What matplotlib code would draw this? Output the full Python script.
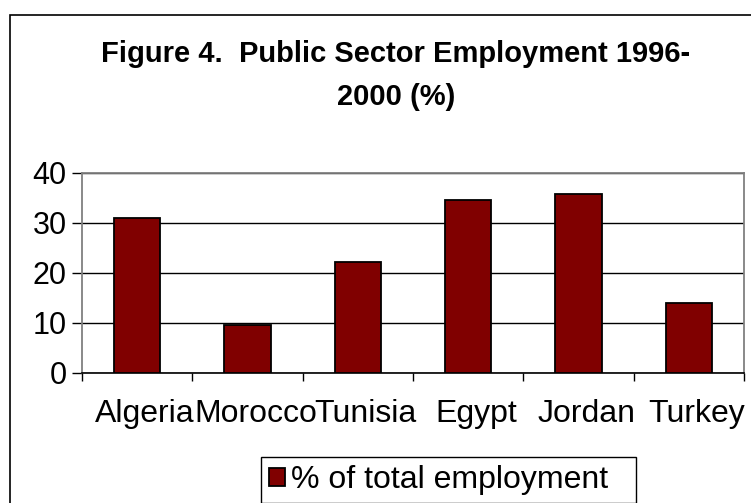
import matplotlib
matplotlib.use('Agg')
from matplotlib import pyplot as plt
from matplotlib.patches import Rectangle
from matplotlib.transforms import ScaledTranslation

# 数据
countries = ['Algeria', 'Morocco', 'Tunisia', 'Egypt', 'Jordan', 'Turkey']
share = [31.1, 9.6, 22.2, 34.7, 35.9, 14.1]
y_ticks = [0, 10, 20, 30, 40]
series_name = '% of total employment'
title_1 = 'Figure 4.  Public Sector Employment 1996-'
title_2 = '2000 (%)'

plt.rcParams['font.family'] = ['Liberation Sans', 'DejaVu Sans']

W, H = 751, 503
fig = plt.figure(figsize=(W / 100, H / 100), dpi=100)
ax = fig.add_axes([82 / W, 1 - 373 / H, (744 - 82) / W, 200 / H])

x = list(range(len(countries)))
ax.bar(x, share, width=0.42, color='#800000', edgecolor='black', linewidth=1.3,
       label=series_name, zorder=3)

ax.set_xlim(-0.5, len(countries) - 0.5)
ax.set_ylim(0, 40)
ax.set_yticks(y_ticks)
ax.yaxis.grid(True, color='black', linewidth=1)
ax.set_axisbelow(True)

# 类别刻度在分隔处，标签在中间
ax.set_xticks(x)
ax.set_xticklabels(countries, fontsize=23)
ax.set_xticks([i - 0.5 for i in range(len(countries) + 1)], minor=True)
ax.tick_params(axis='x', which='major', length=0, pad=19)
ax.tick_params(axis='x', which='minor', length=6, width=1, color='black', direction='out')
ax.tick_params(axis='y', labelsize=22, length=7, width=1, color='black', pad=4)
for lab in ax.get_xticklabels():
    lab.set_transform(lab.get_transform() + ScaledTranslation(0.08, 0, fig.dpi_scale_trans))

for side in ['top', 'right', 'left']:
    ax.spines[side].set_color('#808080')
    ax.spines[side].set_linewidth(1.3)
ax.spines['bottom'].set_color('black')
ax.spines['bottom'].set_linewidth(1.2)

# 标题
fig.text(396 / W, 1 - 62 / H, title_1, fontsize=21, fontweight='bold', ha='center', va='baseline')
fig.text(396 / W, 1 - 105 / H, title_2, fontsize=21, fontweight='bold', ha='center', va='baseline')

# 图例
leg = fig.legend(loc='upper left', bbox_to_anchor=(261 / W, 1 - 457 / H, (636 - 261) / W, 0.0),
                 mode='expand', fontsize=23,
                 frameon=True, fancybox=False, framealpha=1, edgecolor='black',
                 borderaxespad=0, borderpad=0.25, handlelength=0.5, handleheight=0.5,
                 handletextpad=0.2)
leg.get_frame().set_linewidth(1)

# 外框
fig.patches.append(Rectangle((10 / W, -0.1), 1.2, 1.1 - 15 / H, transform=fig.transFigure,
                             fill=False, edgecolor='black', linewidth=1.2))

fig.savefig('out.png', dpi=100)
